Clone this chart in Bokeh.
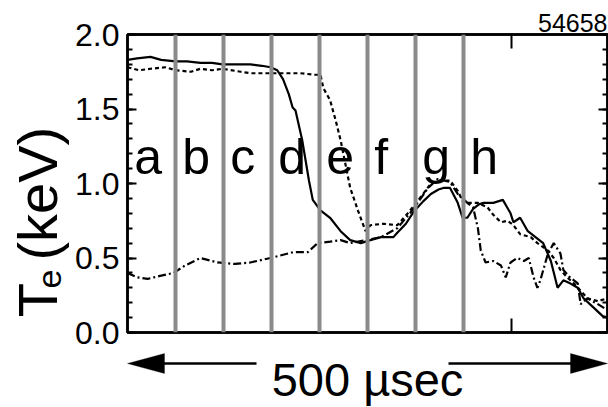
import math
from bokeh.plotting import figure
from bokeh.layouts import row, column
from bokeh.models import (Range1d, LinearAxis, SingleIntervalTicker, FixedTicker,
                          NumeralTickFormatter, Span, Label, Arrow, PolyAnnotation)
from bokeh.core.properties import value
from bokeh.embed import file_html
from bokeh.resources import INLINE

# Electron temperature traces (time in µs, Te in keV)
t_solid = [0, 10, 24, 35, 50, 62, 76, 88, 99, 112, 128, 140, 149, 156, 162, 168, 172, 175,
           182, 189, 193, 201, 211, 222, 232, 243, 253, 264, 277, 281, 290, 298, 308, 316,
           324, 329, 336, 344, 349, 354, 360, 366, 371, 381, 386, 391, 399, 402, 409, 417,
           427, 433, 441, 448, 454, 461, 469, 475, 485, 495, 500]
te_solid = [1.83, 1.84, 1.85, 1.83, 1.82, 1.82, 1.81, 1.81, 1.80, 1.80, 1.80, 1.79, 1.78,
            1.76, 1.70, 1.60, 1.51, 1.49, 1.29, 1.02, 0.89, 0.82, 0.77, 0.68, 0.62, 0.60,
            0.62, 0.64, 0.64, 0.67, 0.73, 0.81, 0.88, 0.93, 0.96, 0.97, 0.97, 0.87, 0.77,
            0.77, 0.83, 0.86, 0.87, 0.87, 0.88, 0.89, 0.80, 0.74, 0.77, 0.68, 0.63, 0.60,
            0.48, 0.30, 0.35, 0.33, 0.30, 0.23, 0.17, 0.11, 0.10]

t_dash = [0, 12, 24, 40, 50, 66, 76, 88, 99, 118, 128, 149, 170, 180, 195, 201, 204, 211,
          217, 222, 227, 232, 240, 248, 253, 267, 281, 292, 308, 316, 326, 336, 344, 350,
          357, 365, 375, 381, 389, 396, 402, 409, 420, 427, 438, 444, 451, 458, 465, 472,
          479, 490, 500]
te_dash = [1.78, 1.76, 1.77, 1.78, 1.76, 1.75, 1.77, 1.76, 1.77, 1.75, 1.74, 1.74, 1.74,
           1.74, 1.73, 1.73, 1.64, 1.56, 1.42, 1.29, 1.13, 0.97, 0.82, 0.68, 0.72, 0.73,
           0.72, 0.80, 0.93, 1.00, 1.02, 1.02, 0.95, 0.87, 0.87, 0.87, 0.84, 0.79, 0.74,
           0.75, 0.72, 0.66, 0.64, 0.60, 0.55, 0.50, 0.42, 0.37, 0.33, 0.28, 0.23, 0.21,
           0.23]

t_dashdot = [0, 10, 21, 34, 48, 60, 76, 94, 112, 128, 149, 173, 188, 198, 211, 222, 232,
             248, 264, 281, 298, 313, 323, 336, 344, 354, 360, 365, 368, 373, 381, 389, 394,
             399, 406, 413, 418, 423, 427, 430, 438, 444, 451, 454, 461, 469, 472, 479, 490,
             500]
te_dashdot = [0.40, 0.37, 0.36, 0.38, 0.40, 0.45, 0.50, 0.47, 0.46, 0.47, 0.50, 0.54, 0.54,
              0.60, 0.61, 0.62, 0.60, 0.62, 0.64, 0.70, 0.83, 0.97, 1.03, 1.01, 0.93, 0.87,
              0.84, 0.70, 0.55, 0.47, 0.48, 0.45, 0.37, 0.47, 0.50, 0.48, 0.50, 0.37, 0.30,
              0.35, 0.53, 0.60, 0.53, 0.42, 0.37, 0.33, 0.19, 0.23, 0.19, 0.15]

# Phase boundaries (µs) and the phase letters between them
phase_bounds = [50, 100, 150, 200, 250, 300, 350]
phase_starts = [0, 50, 100, 150, 200, 250, 300, 350]
phase_letters = ["a", "b", "c", "d", "e", "f", "g", "h"]

x_major_ticks = [100, 200, 300, 400]
shot_number = "54658"
window_text = "500 µsec"
T0, T1 = 0, 500          # time window (µs)
E0, E1 = 0.0, 2.0        # Te range (keV)

FONT = "Liberation Sans"
INK = "black"

# page geometry (px)
W, H = 608, 407
LEFT_W = 70                # strip holding the rotated y title
MAIN_H = 352               # main plot height (frame bottom at 332)
FR_L, FR_R, FR_T, FR_B = 127, 607, 34, 332
# the svg text baseline sits this fraction of the font size below the anchor
BASE_SHIFT = 0.38


def bare(width, height, x_range, y_range):
    f = figure(width=width, height=height, x_range=x_range, y_range=y_range,
               output_backend="svg", toolbar_location=None,
               x_axis_location=None, y_axis_location=None,
               min_border_left=0, min_border_right=0, min_border_top=0, min_border_bottom=0)
    f.grid.visible = False
    f.outline_line_color = None
    f.background_fill_color = "white"
    f.border_fill_color = "white"
    return f


# ---------------- main plot ----------------
p = figure(width=W - LEFT_W, height=MAIN_H, x_range=Range1d(T0, T1), y_range=Range1d(E0, E1),
           output_backend="svg", toolbar_location=None,
           x_axis_location=None, y_axis_location=None,
           min_border_left=FR_L - LEFT_W, min_border_right=W - FR_R,
           min_border_top=FR_T, min_border_bottom=MAIN_H - FR_B)
p.grid.visible = False
p.outline_line_color = INK
p.outline_line_width = 2.5
p.background_fill_color = "white"
p.border_fill_color = "white"

p.title.text = shot_number
p.title.align = "right"
p.title.text_font = FONT
p.title.text_font_size = "25px"
p.title.text_font_style = "normal"
p.title.text_color = INK
p.title.standoff = 6


def hide_labels(ax):
    ax.major_label_text_font_size = "0px"
    ax.major_label_text_color = None
    ax.major_label_standoff = 0


def y_axis(show_labels):
    ax = LinearAxis(ticker=SingleIntervalTicker(interval=0.5, num_minor_ticks=5),
                    formatter=NumeralTickFormatter(format="0.0"))
    ax.axis_line_width = 2.5
    ax.axis_line_color = INK
    ax.major_tick_in = 9
    ax.major_tick_out = 0
    ax.minor_tick_in = 5
    ax.minor_tick_out = 0
    ax.major_tick_line_width = 2
    ax.minor_tick_line_width = 2
    ax.major_tick_line_color = INK
    ax.minor_tick_line_color = INK
    if show_labels:
        ax.major_label_text_font = FONT
        ax.major_label_text_font_size = "32px"
        ax.major_label_text_color = INK
        ax.major_label_standoff = 8
    else:
        hide_labels(ax)
    return ax


def x_axis():
    ax = LinearAxis(ticker=FixedTicker(ticks=x_major_ticks, minor_ticks=[]))
    ax.axis_line_width = 2.5
    ax.axis_line_color = INK
    ax.major_tick_in = 14
    ax.major_tick_out = 0
    ax.major_tick_line_width = 2
    ax.major_tick_line_color = INK
    hide_labels(ax)
    return ax


p.add_layout(y_axis(True), "left")
p.add_layout(y_axis(False), "right")
p.add_layout(x_axis(), "below")
p.add_layout(x_axis(), "above")

# Te traces
p.line(t_solid, te_solid, line_color=INK, line_width=2.2)
p.line(t_dash, te_dash, line_color=INK, line_width=2.2, line_dash="4 3")
p.line(t_dashdot, te_dashdot, line_color=INK, line_width=2.2, line_dash="8 3 2 3")

# phase boundaries
for xb in phase_bounds:
    p.add_layout(Span(location=xb, dimension="height", line_color="#8a8a8a", line_width=4))

# phase letters, baseline at 157 px above the frame bottom
keV_per_px = (E1 - E0) / (FR_B - FR_T)
letter_px = 50
letter_y = E0 + (157 + BASE_SHIFT * letter_px) * keV_per_px
p.text(x=[s + 7 for s in phase_starts], y=[letter_y] * len(phase_letters), text=phase_letters,
       text_font=value(FONT), text_font_size=value(f"{letter_px}px"), text_color=INK,
       text_align="left", text_baseline="alphabetic")

# ---------------- rotated y title strip (pixel coordinates) ----------------
pl = bare(LEFT_W, MAIN_H, Range1d(0, LEFT_W), Range1d(MAIN_H, 0))
rot = math.pi / 2
big, small = 56, 34
pl.add_layout(Label(x=58 - BASE_SHIFT * big, y=334, text="T", angle=rot, text_font=FONT,
                    text_font_size=f"{big}px", text_color=INK,
                    text_align="left", text_baseline="alphabetic"))
pl.add_layout(Label(x=62 - BASE_SHIFT * small, y=300, text="e", angle=rot, text_font=FONT,
                    text_font_size=f"{small}px", text_color=INK,
                    text_align="left", text_baseline="alphabetic"))
pl.add_layout(Label(x=58 - BASE_SHIFT * big, y=267, text="(keV)", angle=rot, text_font=FONT,
                    text_font_size=f"{big}px", text_color=INK,
                    text_align="left", text_baseline="alphabetic"))

# ---------------- time-window arrow strip ----------------
us_per_px = (T1 - T0) / (FR_R - FR_L)
pb = bare(W, H - MAIN_H,
          Range1d(T0 - FR_L * us_per_px, T0 + (W - FR_L) * us_per_px),
          Range1d(H, MAIN_H))
ya = 363
head_len = 37 * us_per_px
pb.add_layout(Arrow(x_start=T0 + head_len - 2 * us_per_px, y_start=ya,
                    x_end=T0 + head_len + 92 * us_per_px, y_end=ya,
                    start=None, end=None, line_width=2.5, line_color=INK))
pb.add_layout(Arrow(x_start=T1 - head_len + 2 * us_per_px, y_start=ya,
                    x_end=T1 - head_len - 122 * us_per_px, y_end=ya,
                    start=None, end=None, line_width=2.5, line_color=INK))
pb.add_layout(PolyAnnotation(xs=[T0, T0 + head_len, T0 + head_len], ys=[ya, ya - 10, ya + 10],
                             fill_color=INK, fill_alpha=1, line_color=INK))
pb.add_layout(PolyAnnotation(xs=[T1, T1 - head_len, T1 - head_len], ys=[ya, ya - 10, ya + 10],
                             fill_color=INK, fill_alpha=1, line_color=INK))
win_px = 47
pb.add_layout(Label(x=(T0 + T1) / 2, y=397 - BASE_SHIFT * win_px, text=window_text,
                    text_font=FONT, text_font_size=f"{win_px}px", text_align="center",
                    text_baseline="alphabetic", text_color=INK))

layout = column(row(pl, p, spacing=0), pb, spacing=0)
open("out.html", "w").write(file_html(layout, INLINE))
